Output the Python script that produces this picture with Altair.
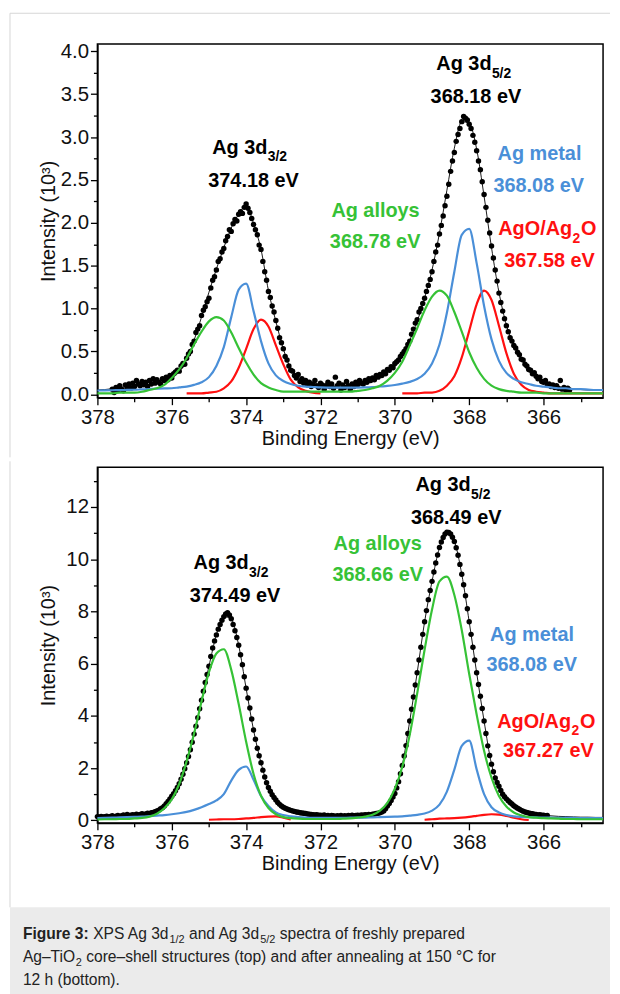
import altair as alt
import pandas as pd

FONT = "Liberation Sans"
GREEN = "#36c236"
BLUE = "#4a8fd8"
RED = "#ff1010"

# ---------------- shared energy grids ----------------
LINE_START = 378.0      # fitted curves: 378.0 -> 364.4 eV, step 0.2
LINE_STEP = 0.2
DOT_STEP = 0.05         # measured points

# ---------------- TOP panel (fresh) ----------------
top_green = [0.01, 0.01, 0.01, 0.02, 0.02, 0.02, 0.03, 0.05, 0.07, 0.11,
             0.19, 0.29, 0.42, 0.58, 0.73, 0.85, 0.90, 0.86, 0.72, 0.54,
             0.37, 0.23, 0.13, 0.08, 0.05, 0.03, 0.03, 0.03, 0.03, 0.03,
             0.03, 0.03, 0.03, 0.03, 0.03, 0.04, 0.05, 0.07, 0.10, 0.16,
             0.25, 0.38, 0.57, 0.77, 0.98, 1.14, 1.21, 1.15, 0.96, 0.73,
             0.49, 0.31, 0.18, 0.10, 0.06, 0.04, 0.03, 0.02, 0.02, 0.02,
             0.01, 0.01, 0.01, 0.01, 0.01, 0.01, 0.01, 0.01, 0.01]
top_blue = [0.044, 0.045, 0.047, 0.048, 0.051, 0.053, 0.057, 0.061, 0.065, 0.068,
            0.07, 0.08, 0.09, 0.11, 0.14, 0.20, 0.33, 0.55, 0.90, 1.22,
            1.29, 0.97, 0.62, 0.36, 0.22, 0.155, 0.12, 0.10, 0.09, 0.085,
            0.08, 0.078, 0.077, 0.077, 0.077, 0.078, 0.08, 0.084, 0.091, 0.097,
            0.108, 0.124, 0.145, 0.178, 0.24, 0.36, 0.58, 0.95, 1.43, 1.86,
            1.93, 1.53, 1.03, 0.64, 0.39, 0.25, 0.18, 0.14, 0.12, 0.10,
            0.09, 0.08, 0.07, 0.07, 0.06, 0.06, 0.055, 0.05, 0.05]
top_fit = [0.05, 0.055, 0.065, 0.08, 0.09, 0.11, 0.13, 0.14, 0.15, 0.16,
           0.19, 0.26, 0.40, 0.63, 0.90, 1.19, 1.46, 1.71, 1.94, 2.10,
           2.20, 1.99, 1.69, 1.21, 0.85, 0.53, 0.30, 0.20, 0.15, 0.12,
           0.10, 0.09, 0.09, 0.095, 0.10, 0.12, 0.14, 0.17, 0.205, 0.26,
           0.32, 0.45, 0.63, 0.85, 1.12, 1.45, 1.88, 2.38, 2.87, 3.18,
           3.16, 2.86, 2.31, 1.71, 1.19, 0.81, 0.58, 0.42, 0.30, 0.22,
           0.15, 0.11, 0.085, 0.066, 0.06, 0.055, 0.05, 0.05, 0.05]
top_red_a_start = 375.6
top_red_a = [0.01, 0.01, 0.01, 0.02, 0.03, 0.07, 0.15, 0.31, 0.53, 0.76,
             0.87, 0.79, 0.57, 0.35, 0.17, 0.08, 0.04, 0.02, 0.01]
top_red_b_start = 369.8
top_red_b = [0.01, 0.01, 0.01, 0.02, 0.02, 0.04, 0.10, 0.21, 0.43, 0.74,
             1.05, 1.21, 1.10, 0.80, 0.48, 0.24, 0.11, 0.05, 0.03, 0.02,
             0.01, 0.01, 0.01, 0.01, 0.01, 0.01, 0.01, 0.01]
top_dots_start = 377.6
top_dots = [0.06, 0.02, 0.08, 0.05, 0.10, 0.06, 0.04, 0.11, 0.08, 0.12,
            0.07, 0.13, 0.09, 0.16, 0.12, 0.10, 0.15, 0.11, 0.14, 0.09,
            0.16, 0.12, 0.18, 0.13, 0.17, 0.14, 0.12, 0.18, 0.16, 0.20,
            0.17, 0.22, 0.19, 0.24, 0.26, 0.28, 0.27, 0.33, 0.36, 0.35,
            0.42, 0.47, 0.50, 0.58, 0.62, 0.72, 0.76, 0.80, 0.92, 0.98,
            1.02, 1.08, 1.12, 1.24, 1.33, 1.37, 1.45, 1.55, 1.58, 1.66,
            1.70, 1.79, 1.84, 1.92, 1.90, 1.99, 2.04, 2.02, 2.10, 2.13,
            2.11, 2.18, 2.22, 2.17, 2.12, 2.05, 1.98, 1.92, 1.86, 1.74,
            1.69, 1.55, 1.43, 1.33, 1.20, 1.13, 1.03, 0.96, 0.86, 0.77,
            0.66, 0.60, 0.53, 0.44, 0.40, 0.33, 0.28, 0.27, 0.22, 0.19,
            0.23, 0.15, 0.18, 0.13, 0.16, 0.11, 0.14, 0.09, 0.12, 0.16,
            0.10, 0.08, 0.13, 0.11, 0.06, 0.10, 0.14, 0.09, 0.12, 0.07,
            0.20, 0.10, 0.13, 0.05, 0.11, 0.08, 0.15, 0.10, 0.06, 0.12,
            0.09, 0.14, 0.11, 0.16, 0.13, 0.12, 0.16, 0.14, 0.18, 0.16,
            0.19, 0.17, 0.22, 0.20, 0.23, 0.22, 0.26, 0.24, 0.29, 0.28,
            0.32, 0.31, 0.36, 0.38, 0.40, 0.44, 0.47, 0.50, 0.53, 0.58,
            0.62, 0.70, 0.76, 0.83, 0.87, 0.96, 1.00, 1.06, 1.12, 1.20,
            1.27, 1.34, 1.43, 1.55, 1.66, 1.74, 1.87, 1.97, 2.08, 2.20,
            2.31, 2.45, 2.60, 2.72, 2.82, 2.95, 3.03, 3.10, 3.18, 3.24,
            3.22, 3.20, 3.15, 3.10, 3.02, 2.94, 2.84, 2.72, 2.62, 2.48,
            2.33, 2.18, 2.03, 1.88, 1.73, 1.59, 1.45, 1.32, 1.18, 1.07,
            0.97, 0.88, 0.80, 0.73, 0.66, 0.62, 0.57, 0.54, 0.49, 0.46,
            0.41, 0.40, 0.35, 0.33, 0.29, 0.28, 0.24, 0.25, 0.21, 0.18,
            0.20, 0.15, 0.14, 0.16, 0.11, 0.12, 0.09, 0.11, 0.08, 0.10,
            0.07, 0.16, 0.06, 0.08, 0.05, 0.07, 0.05]

# ---------------- BOTTOM panel (annealed) ----------------
bot_green = [0.03, 0.04, 0.04, 0.05, 0.05, 0.07, 0.09, 0.14, 0.25, 0.46,
             0.80, 1.39, 2.26, 3.32, 4.55, 5.67, 6.39, 6.55, 5.76, 4.45,
             3.01, 1.77, 0.94, 0.47, 0.23, 0.12, 0.08, 0.06, 0.05, 0.05,
             0.05, 0.05, 0.05, 0.06, 0.07, 0.10, 0.14, 0.21, 0.37, 0.67,
             1.21, 2.05, 3.27, 4.85, 6.53, 8.07, 9.15, 9.33, 8.63, 7.28,
             5.60, 4.05, 2.66, 1.63, 0.93, 0.53, 0.30, 0.19, 0.12, 0.10,
             0.08, 0.07, 0.06, 0.05, 0.05, 0.04, 0.04, 0.04, 0.04]
bot_blue = [0.08, 0.09, 0.10, 0.11, 0.12, 0.13, 0.14, 0.16, 0.18, 0.20,
            0.23, 0.27, 0.32, 0.40, 0.50, 0.62, 0.76, 1.00, 1.52, 1.93,
            2.06, 1.55, 0.93, 0.55, 0.30, 0.20, 0.15, 0.12, 0.10, 0.09,
            0.09, 0.09, 0.09, 0.09, 0.10, 0.10, 0.10, 0.11, 0.12, 0.13,
            0.14, 0.15, 0.18, 0.21, 0.26, 0.37, 0.60, 1.10, 1.94, 2.85,
            3.05, 1.95, 1.00, 0.50, 0.30, 0.20, 0.15, 0.13, 0.12, 0.11,
            0.10, 0.10, 0.09, 0.09, 0.09, 0.08, 0.08, 0.08, 0.08]
bot_fit = [0.13, 0.14, 0.15, 0.16, 0.17, 0.19, 0.22, 0.25, 0.34, 0.54,
           0.92, 1.40, 2.20, 3.30, 4.60, 5.90, 7.10, 7.80, 7.70, 6.70,
           5.05, 3.45, 2.20, 1.25, 0.78, 0.50, 0.38, 0.31, 0.26, 0.21,
           0.19, 0.18, 0.16, 0.16, 0.17, 0.18, 0.19, 0.22, 0.28, 0.55,
           1.03, 2.10, 3.80, 5.65, 7.60, 9.15, 10.45, 11.02, 10.68, 9.42,
           7.60, 5.65, 3.80, 2.15, 1.30, 0.82, 0.56, 0.38, 0.28, 0.22,
           0.19, 0.17, 0.15, 0.14, 0.13, 0.12, 0.12, 0.11, 0.11]
bot_red_a_start = 375.0
bot_red_a = [0.02, 0.03, 0.04, 0.04, 0.05, 0.07, 0.09, 0.12, 0.14, 0.15, 0.10, 0.03]
bot_red_b_start = 369.2
bot_red_b = [0.02, 0.04, 0.06, 0.07, 0.08, 0.10, 0.13, 0.17, 0.21, 0.23,
             0.22, 0.17, 0.10, 0.04, 0.01]
bot_dots_start = 378.0
bot_dots = [0.14, 0.12, 0.15, 0.13, 0.14, 0.16, 0.13, 0.15, 0.17, 0.14,
            0.16, 0.18, 0.15, 0.17, 0.20, 0.16, 0.22, 0.18, 0.19, 0.21,
            0.19, 0.23, 0.20, 0.22, 0.25, 0.22, 0.24, 0.27, 0.25, 0.29,
            0.30, 0.33, 0.36, 0.39, 0.44, 0.48, 0.55, 0.63, 0.72, 0.82,
            0.92, 1.02, 1.13, 1.26, 1.40, 1.57, 1.76, 1.97, 2.20, 2.44,
            2.70, 2.99, 3.30, 3.60, 3.93, 4.27, 4.60, 4.94, 5.28, 5.58,
            5.90, 6.27, 6.60, 6.87, 7.10, 7.32, 7.50, 7.66, 7.80, 7.90,
            7.95, 7.86, 7.72, 7.50, 7.26, 7.00, 6.70, 6.34, 5.96, 5.50,
            5.06, 4.68, 4.30, 3.88, 3.46, 3.10, 2.76, 2.47, 2.20, 1.92,
            1.66, 1.44, 1.26, 1.11, 0.98, 0.87, 0.78, 0.68, 0.61, 0.55,
            0.50, 0.46, 0.43, 0.40, 0.38, 0.36, 0.34, 0.32, 0.31, 0.29,
            0.28, 0.27, 0.26, 0.24, 0.23, 0.22, 0.21, 0.20, 0.21, 0.19,
            0.19, 0.18, 0.20, 0.17, 0.18, 0.16, 0.18, 0.17, 0.15, 0.17,
            0.16, 0.18, 0.15, 0.17, 0.16, 0.18, 0.17, 0.19, 0.17, 0.18,
            0.19, 0.18, 0.20, 0.19, 0.21, 0.20, 0.22, 0.21, 0.23, 0.24,
            0.26, 0.27, 0.29, 0.32, 0.36, 0.44, 0.55, 0.64, 0.76, 0.89,
            1.03, 1.24, 1.48, 1.78, 2.10, 2.46, 2.86, 3.32, 3.80, 4.25,
            4.72, 5.18, 5.65, 6.14, 6.63, 7.12, 7.60, 8.03, 8.45, 8.80,
            9.15, 9.51, 9.85, 10.16, 10.45, 10.66, 10.83, 10.96, 11.03, 11.02,
            10.96, 10.84, 10.68, 10.44, 10.15, 9.80, 9.42, 9.02, 8.60, 8.10,
            7.60, 7.12, 6.63, 6.14, 5.65, 5.20, 4.75, 4.28, 3.80, 3.32,
            2.85, 2.48, 2.15, 1.86, 1.62, 1.45, 1.30, 1.14, 1.00, 0.90,
            0.82, 0.75, 0.68, 0.62, 0.56, 0.51, 0.46, 0.42, 0.38, 0.35,
            0.32, 0.30, 0.28, 0.26, 0.25, 0.23, 0.22, 0.20, 0.21, 0.19,
            0.19, 0.17, 0.18]

# ---------------- annotations (energy, intensity, text, colour, kind) ----------------
top_ann_E = [373.43, 373.42, 373.80, 367.40, 367.39, 367.82, 366.11, 366.13,
             370.52, 370.53, 365.23, 365.22, 364.99, 365.84]
top_ann_I = [2.80, 2.72, 2.42, 3.78, 3.69, 3.40, 2.73, 2.36,
             2.07, 1.71, 1.86, 1.77, 1.86, 1.49]
top_ann_T = ["Ag 3d", "3/2", "374.18 eV", "Ag 3d", "5/2", "368.18 eV", "Ag metal", "368.08 eV",
             "Ag alloys", "368.78 eV", "AgO/Ag", "2", "O", "367.58 eV"]
top_ann_C = ["black", "black", "black", "black", "black", "black", BLUE, BLUE,
             GREEN, GREEN, RED, RED, RED, RED]
top_ann_K = ["r", "s", "c", "r", "s", "c", "c", "c", "c", "c", "r", "s", "l", "c"]

bot_ann_E = [373.93, 373.92, 374.30, 367.96, 367.95, 368.35, 370.46, 370.46,
             366.31, 366.32, 365.26, 365.25, 365.02, 365.87]
bot_ann_I = [9.61, 9.33, 8.35, 12.60, 12.32, 11.36, 10.35, 9.18,
             6.86, 5.71, 3.55, 3.28, 3.55, 2.41]
bot_ann_T = ["Ag 3d", "3/2", "374.49 eV", "Ag 3d", "5/2", "368.49 eV", "Ag alloys", "368.66 eV",
             "Ag metal", "368.08 eV", "AgO/Ag", "2", "O", "367.27 eV"]
bot_ann_C = ["black", "black", "black", "black", "black", "black", GREEN, GREEN,
             BLUE, BLUE, RED, RED, RED, RED]
bot_ann_K = ["r", "s", "c", "r", "s", "c", "c", "c", "c", "c", "r", "s", "l", "c"]

# ---------------- layout ----------------
W = 509
H_TOP = 356
H_BOT = 358
TICK_FS = 20.5
TITLE_FS = 20


def frame(values, start, step, seg=0):
    return pd.DataFrame({
        "E": [round(start - step * i, 3) for i in range(len(values))],
        "I": values,
        "seg": seg,
    })


def x_enc():
    axis = alt.Axis(
        values=list(range(365, 379)),
        labelExpr="datum.value % 2 == 0 ? datum.label : ''",
        tickSize={"condition": {"test": "datum.value % 2 == 1", "value": 4}, "value": 7},
        tickWidth=1.3, tickColor="black", domainColor="black", domainWidth=1.5,
        labelFont=FONT, labelFontSize=TICK_FS, labelColor="#111",
        labelBaseline="alphabetic", labelPadding=18.5,
        labelFlush=False, labelOverlap=False, grid=False,
        title="Binding Energy (eV)", titleFont=FONT, titleFontSize=TITLE_FS,
        titleFontWeight="normal", titleColor="#111",
        titleX=W / 2, titleY=47, titleAlign="center", titleBaseline="alphabetic",
    )
    return alt.X("E:Q", scale=alt.Scale(domain=[364.4, 378], reverse=True, nice=False, zero=False),
                 axis=axis)


def y_enc(domain, values, minor_test, label_expr, height):
    axis = alt.Axis(
        values=values,
        labelExpr=label_expr,
        tickSize={"condition": {"test": minor_test, "value": 4}, "value": 7},
        tickWidth=1.3, tickColor="black", domainColor="black", domainWidth=1.5,
        labelFont=FONT, labelFontSize=TICK_FS, labelColor="#111", labelPadding=2,
        labelFlush=False, labelOverlap=False, grid=False,
        title="Intensity (10³)", titleFont=FONT, titleFontSize=TITLE_FS,
        titleFontWeight="normal", titleColor="#111",
        titleX=-43, titleY=height / 2, titleAngle=270, titleAlign="center",
        titleBaseline="alphabetic",
    )
    return alt.Y("I:Q", scale=alt.Scale(domain=domain, nice=False, zero=False), axis=axis)


DUMMY = pd.DataFrame({"k": [0]})


def panel(dots, dots_start, fit, green, blue, red_a, red_a_start, red_b, red_b_start,
          ann, ydef, height, extra):
    X = x_enc()
    Y = ydef
    d_dots = frame(dots, dots_start, DOT_STEP)
    d_fit = frame(fit, LINE_START, LINE_STEP)
    d_green = frame(green, LINE_START, LINE_STEP)
    d_blue = frame(blue, LINE_START, LINE_STEP)
    d_red = pd.concat([frame(red_a, red_a_start, LINE_STEP, 0),
                       frame(red_b, red_b_start, LINE_STEP, 1)])
    layers = list(extra)
    layers.append(alt.Chart(d_dots).mark_circle(size=30, color="black", opacity=1)
                  .encode(x=X, y=Y))
    layers.append(alt.Chart(d_fit).mark_line(color="black", strokeWidth=0.9, interpolate="monotone")
                  .encode(x=X, y=Y))
    layers.append(alt.Chart(d_red).mark_line(color=RED, strokeWidth=2.2, interpolate="monotone")
                  .encode(x=X, y=Y, detail="seg:N"))
    layers.append(alt.Chart(d_blue).mark_line(color=BLUE, strokeWidth=2.2, interpolate="monotone")
                  .encode(x=X, y=Y))
    layers.append(alt.Chart(d_green).mark_line(color=GREEN, strokeWidth=2.2, interpolate="monotone")
                  .encode(x=X, y=Y))
    for kind, align, size in [("c", "center", 20), ("r", "right", 20), ("l", "left", 20), ("s", "left", 14)]:
        sub = ann[ann["k"] == kind]
        layers.append(alt.Chart(sub).mark_text(align=align, baseline="alphabetic", fontSize=size,
                                               fontWeight="bold", font=FONT)
                      .encode(x=X, y=Y, text="t:N", color=alt.Color("c:N", scale=None)))
    return alt.layer(*layers).properties(width=W, height=height)


def rule(**enc):
    return alt.Chart(DUMMY).mark_rule(color="#d6d6d6", strokeWidth=1).encode(**enc)


def ctext(txt, px, py, size=15.7, bold=False):
    return alt.Chart(DUMMY).mark_text(align="left", baseline="alphabetic", fontSize=size,
                                      fontWeight="bold" if bold else "normal", font=FONT,
                                      color="#222").encode(
        x=alt.value(px), y=alt.value(py), text=alt.value(txt))


top_ann = pd.DataFrame({"E": top_ann_E, "I": top_ann_I, "t": top_ann_T, "c": top_ann_C, "k": top_ann_K})
bot_ann = pd.DataFrame({"E": bot_ann_E, "I": bot_ann_I, "t": bot_ann_T, "c": bot_ann_C, "k": bot_ann_K})

top_extra = [
    rule(x=alt.value(-88), y=alt.value(-31), y2=alt.value(416)),
    rule(x=alt.value(-88), x2=alt.value(516), y=alt.value(-31)),
]
bot_extra = [
    rule(x=alt.value(-88), y=alt.value(-6), y2=alt.value(443)),
    alt.Chart(DUMMY).mark_rect(color="#ebebeb").encode(
        x=alt.value(-88), x2=alt.value(516), y=alt.value(443), y2=alt.value(533)),
    ctext("Figure 3:", -75, 475, bold=True),
    ctext("XPS Ag 3d", -4.3, 475),
    ctext("1/2", 72.5, 479, size=11),
    ctext("and Ag 3d", 92.2, 475),
    ctext("5/2", 163.8, 479, size=11),
    ctext("spectra of freshly prepared", 183.5, 475),
    ctext("Ag–TiO", -75, 498.3),
    ctext("2", -21.8, 502.3, size=11),
    ctext("core–shell structures (top) and after annealing at 150 °C for", -11.3, 498.3),
    ctext("12 h (bottom).", -75, 521),
]

y_top = y_enc([-0.04, 4.085], [i * 0.25 for i in range(17)],
              "(datum.value * 4) % 2 == 1",
              "(datum.value * 4) % 2 == 1 ? '' : format(datum.value, '.1f')", H_TOP)
y_bot = y_enc([-0.1, 13.52], list(range(0, 14)),
              "datum.value % 2 == 1",
              "datum.value % 2 == 1 ? '' : format(datum.value, 'd')", H_BOT)

top = panel(top_dots, top_dots_start, top_fit, top_green, top_blue,
            top_red_a, top_red_a_start, top_red_b, top_red_b_start,
            top_ann, y_top, H_TOP, top_extra)
bottom = panel(bot_dots, bot_dots_start, bot_fit, bot_green, bot_blue,
               bot_red_a, bot_red_a_start, bot_red_b, bot_red_b_start,
               bot_ann, y_bot, H_BOT, bot_extra)

chart = (
    alt.vconcat(top, bottom, spacing=0)
    .properties(padding={"left": 0, "right": 0, "top": 0, "bottom": 0})
    .configure(font=FONT)
    .configure_view(stroke="black", strokeWidth=1.5)
)

chart.save("out.html", embed_options={"renderer": "svg", "actions": False})
